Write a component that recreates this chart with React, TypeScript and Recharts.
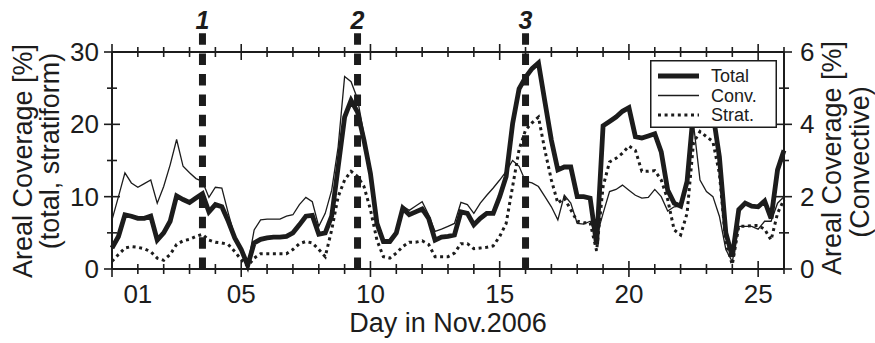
import React from 'react';
import { ComposedChart, Line, XAxis, YAxis, ReferenceLine, Legend } from 'recharts';

// 6-hourly samples, day 0 .. 26 of Nov. 2006
const total = [
  2.9, 4.5, 7.5, 7.3, 7.0, 7.0, 7.3, 4.0, 5.0, 6.6, 10.1, 9.6, 9.2, 9.8, 10.4, 7.9, 8.9, 8.6, 6.6, 4.3, 2.7,
  0.5, 3.6, 4.1, 4.3, 4.4, 4.4, 4.5, 5.0, 6.1, 7.3, 7.4, 4.8, 5.0, 7.3, 14.1, 21.0, 23.3, 21.7, 17.8, 13.2,
  6.3, 3.8, 3.8, 5.0, 8.4, 7.5, 7.9, 8.3, 7.0, 4.0, 4.4, 4.5, 4.7, 7.9, 7.7, 6.1, 7.0, 7.7, 7.7, 10.0,
  12.8, 20.1, 24.9, 26.5, 27.7, 28.5, 23.1, 17.8, 13.7, 14.1, 14.1, 10.0, 10.0, 9.8, 3.4, 19.8, 20.4, 21.0, 21.8, 22.3,
  18.3, 18.1, 18.4, 18.7, 16.2, 10.9, 9.1, 8.7, 12.1, 22.0, 25.0, 24.0, 21.5, 15.5, 5.0, 1.7, 8.2, 9.1, 8.7, 8.6,
  9.4, 7.0, 13.7, 16.4,
];

const conv = [
  1.36, 2.0, 2.66, 2.38, 2.26, 2.36, 2.46, 1.82, 2.28, 2.88, 3.58, 2.84, 2.66, 2.5, 2.42, 1.98, 2.26, 2.24, 1.54, 0.9, 0.54,
  0.1, 1.08, 1.36, 1.38, 1.38, 1.38, 1.46, 1.5, 1.78, 1.98, 1.86, 1.18, 1.54, 2.18, 3.38, 5.32, 5.18, 4.7, 3.7, 2.7,
  1.36, 0.82, 0.8, 1.04, 1.74, 1.62, 1.74, 1.86, 1.5, 1.04, 1.1, 1.18, 1.26, 1.84, 1.78, 1.54, 1.82, 2.04, 2.24, 2.46,
  2.7, 3.0, 2.84, 2.42, 2.38, 2.28, 2.0, 1.72, 1.36, 2.04, 1.82, 1.26, 1.24, 1.32, 0.9, 1.54, 2.14, 2.2, 2.32, 2.18,
  2.04, 1.96, 1.98, 2.2, 2.0, 1.6, 1.72, 1.74, 2.3, 4.0, 2.46, 2.14, 2.0, 1.46, 0.54, 0.2, 1.18, 1.18, 1.18, 1.1,
  1.32, 1.32, 1.82, 2.0,
];

const strat = [
  1.06, 2.0, 2.9, 3.1, 3.0, 2.8, 2.4, 1.5, 1.2, 2.0, 3.4, 3.9, 4.1, 4.5, 4.8, 4.0, 3.7, 3.6, 3.4, 2.4, 1.3,
  0.4, 1.5, 2.1, 2.1, 2.1, 2.1, 2.1, 2.7, 3.5, 3.8, 3.6, 2.7, 1.7, 5.4, 10.0, 12.3, 13.5, 12.8, 11.4, 8.2,
  4.0, 1.7, 1.5, 2.2, 3.1, 3.7, 3.7, 3.9, 3.4, 1.7, 1.7, 1.7, 2.2, 3.5, 3.5, 2.8, 2.9, 3.0, 3.2, 4.5,
  6.3, 11.4, 16.5, 19.2, 20.2, 21.0, 16.4, 12.3, 9.1, 9.8, 8.2, 6.6, 6.4, 6.4, 2.5, 11.4, 14.8, 15.3, 16.0, 17.0,
  16.4, 13.5, 13.5, 13.6, 12.3, 9.6, 5.4, 4.7, 7.7, 17.5, 19.0, 18.3, 17.6, 13.2, 3.6, 0.6, 5.9, 5.9, 6.0, 6.0,
  5.5, 4.0, 7.7, 9.6,
];

const dayTicks = [0, 1, 2, 3, 4, 5, 6, 7, 8, 9, 10, 11, 12, 13, 14, 15, 16, 17, 18, 19, 20, 21, 22, 23, 24, 25, 26];
const dayLabels: Record<number, string> = { 1: '01', 5: '05', 10: '10', 15: '15', 20: '20', 25: '25' };
const leftTicks = [0, 5, 10, 15, 20, 25, 30];
const rightTicks = [0, 1, 2, 3, 4, 5, 6];
const events = [
  { day: 3.5, name: '1' },
  { day: 9.5, name: '2' },
  { day: 16, name: '3' },
];

const rows = total.map((t, i) => ({ day: i / 4, total: t, conv: conv[i], strat: strat[i] }));

const INK = '#1c1c1c';
const FONT = '"Liberation Sans", Arial, Helvetica, sans-serif';

const BottomTick = (props: any) => {
  const { x, y, payload } = props;
  const v = payload.value;
  const len = v % 5 === 0 ? 8 : 5;
  return (
    <g>
      <line x1={x} x2={x} y1={y - len} y2={y + len} stroke={INK} strokeWidth={1.6} />
      {dayLabels[v] && (
        <text x={x} y={y + 34} textAnchor="middle" fontSize={26} fill={INK} fontFamily={FONT}>
          {dayLabels[v]}
        </text>
      )}
    </g>
  );
};

const TopTick = (props: any) => {
  const { x, y, payload } = props;
  const len = payload.value % 5 === 0 ? 8 : 5;
  return <line x1={x} x2={x} y1={y - len} y2={y + len} stroke={INK} strokeWidth={1.6} />;
};

const LeftTick = (props: any) => {
  const { x, y, payload } = props;
  const v = payload.value;
  const major = v % 10 === 0;
  const len = major ? 8 : 5;
  return (
    <g>
      <line x1={x - len} x2={x + len} y1={y} y2={y} stroke={INK} strokeWidth={1.6} />
      {major && (
        <text x={x - 13} y={y + 9} textAnchor="end" fontSize={26} fill={INK} fontFamily={FONT}>
          {v}
        </text>
      )}
    </g>
  );
};

const RightTick = (props: any) => {
  const { x, y, payload } = props;
  const v = payload.value;
  const major = v % 2 === 0;
  const len = major ? 8 : 5;
  return (
    <g>
      <line x1={x - len} x2={x + len} y1={y} y2={y} stroke={INK} strokeWidth={1.6} />
      {major && (
        <text x={x + 16} y={y + 9} textAnchor="start" fontSize={26} fill={INK} fontFamily={FONT}>
          {v}
        </text>
      )}
    </g>
  );
};

const titleStyle = { fontSize: 27, fill: INK, fontFamily: FONT };

const LeftTitle = () => (
  <g>
    <text x={32} y={161} transform="rotate(-90, 32, 161)" textAnchor="middle" {...titleStyle}>
      Areal Coverage [%]
    </text>
    <text x={59} y={151} transform="rotate(-90, 59, 151)" textAnchor="middle" {...titleStyle}>
      (total, stratiform)
    </text>
  </g>
);

const RightTitle = () => (
  <g>
    <text x={841} y={158} transform="rotate(-90, 841, 158)" textAnchor="middle" {...titleStyle}>
      Areal Coverage [%]
    </text>
    <text x={869} y={162} transform="rotate(-90, 869, 162)" textAnchor="middle" {...titleStyle}>
      (Convective)
    </text>
  </g>
);

const XTitle = (props: any) => {
  const vb = props.viewBox;
  return (
    <text x={vb.x + vb.width / 2} y={vb.y + 63} textAnchor="middle" {...titleStyle}>
      Day in Nov.2006
    </text>
  );
};

const legendText = { fontSize: 18, fill: INK, fontFamily: FONT };

const LegendBox = () => (
  <svg width={127} height={68} style={{ display: 'block' }}>
    <rect x={0.75} y={0.75} width={125.5} height={66.5} fill="#fff" stroke={INK} strokeWidth={1.5} />
    <line x1={8} x2={49} y1={16} y2={16} stroke={INK} strokeWidth={5} />
    <line x1={8} x2={49} y1={35.5} y2={35.5} stroke={INK} strokeWidth={1.5} />
    <line x1={8} x2={49} y1={55} y2={55} stroke={INK} strokeWidth={3} strokeDasharray="3 3.6" />
    <text x={61} y={22} {...legendText}>Total</text>
    <text x={61} y={41.5} {...legendText}>Conv.</text>
    <text x={61} y={61} {...legendText}>Strat.</text>
  </svg>
);

export default function App() {
  return (
    <div style={{ position: 'absolute', left: 0, top: 0, width: 875, height: 343, background: '#fff' }}>
      <ComposedChart width={875} height={343} data={rows} margin={{ top: 51, right: 0, bottom: 0, left: 0 }}>
        <XAxis
          dataKey="day"
          type="number"
          domain={[0, 26]}
          ticks={dayTicks}
          interval={0}
          height={74}
          tickSize={0}
          tickMargin={0}
          tickLine={false}
          axisLine={{ stroke: INK, strokeWidth: 2 }}
          tick={<BottomTick />}
          label={{ content: <XTitle /> }}
        />
        <XAxis
          xAxisId="top"
          dataKey="day"
          type="number"
          orientation="top"
          domain={[0, 26]}
          ticks={dayTicks}
          interval={0}
          height={1}
          tickSize={0}
          tickMargin={0}
          tickLine={false}
          axisLine={{ stroke: INK, strokeWidth: 2 }}
          tick={<TopTick />}
        />
        <YAxis
          yAxisId="left"
          domain={[0, 30]}
          ticks={leftTicks}
          interval={0}
          width={112}
          tickSize={0}
          tickMargin={0}
          tickLine={false}
          axisLine={{ stroke: INK, strokeWidth: 2 }}
          tick={<LeftTick />}
          label={{ content: <LeftTitle /> }}
        />
        <YAxis
          yAxisId="right"
          orientation="right"
          domain={[0, 6]}
          ticks={rightTicks}
          interval={0}
          width={91}
          tickSize={0}
          tickMargin={0}
          tickLine={false}
          axisLine={{ stroke: INK, strokeWidth: 2 }}
          tick={<RightTick />}
          label={{ content: <RightTitle /> }}
        />
        <Line yAxisId="right" type="linear" dataKey="conv" name="Conv." stroke={INK} strokeWidth={1.3} dot={false} activeDot={false} isAnimationActive={false} />
        <Line yAxisId="left" type="linear" dataKey="total" name="Total" stroke={INK} strokeWidth={4.8} strokeLinejoin="miter" dot={false} activeDot={false} isAnimationActive={false} />
        <Line yAxisId="left" type="linear" dataKey="strat" name="Strat." stroke={INK} strokeWidth={3} strokeDasharray="3 3.6" dot={false} activeDot={false} isAnimationActive={false} />
        {events.map((e) => (
          <ReferenceLine
            key={e.name}
            yAxisId="left"
            segment={[{ x: e.day, y: 32.6 }, { x: e.day, y: 0 }]}
            ifOverflow="visible"
            stroke={INK}
            strokeWidth={7}
            strokeDasharray="11.5 8.9"
            label={{ value: e.name, position: 'top', offset: 4, fontSize: 25, fontWeight: 'bold', fontStyle: 'italic', fill: INK, fontFamily: FONT }}
          />
        ))}
        <Legend
          layout="horizontal"
          verticalAlign="middle"
          align="center"
          content={<LegendBox />}
          wrapperStyle={{ left: 650, top: 60, width: 127, height: 68 }}
        />
      </ComposedChart>
    </div>
  );
}
